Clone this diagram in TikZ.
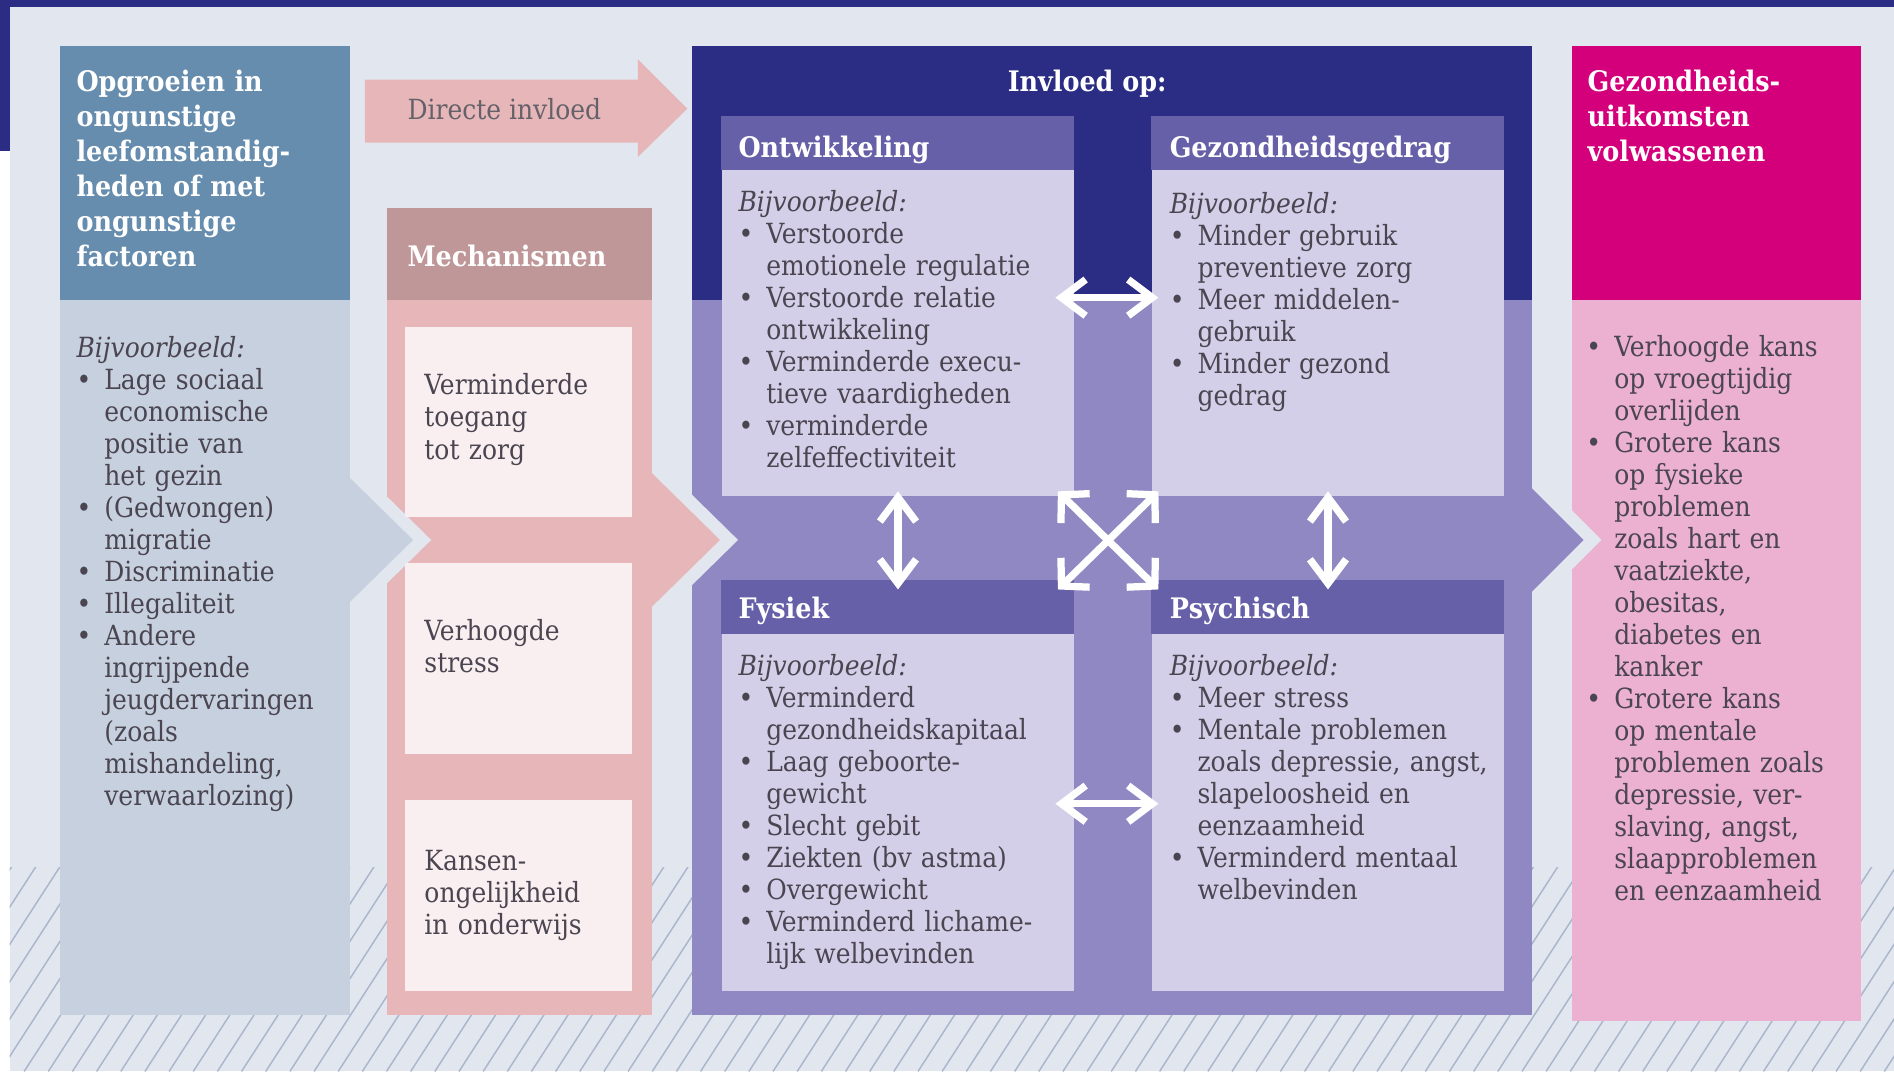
\documentclass[tikz,border=0pt]{standalone}
\usepackage{fontspec}
\setmainfont{DejaVu Serif Condensed}
\usetikzlibrary{arrows.meta}

\definecolor{pagebg}{HTML}{E1E6EF}
\definecolor{navy}{HTML}{2B2D84}
\definecolor{leftHead}{HTML}{668DAE}
\definecolor{leftBody}{HTML}{C6D0DE}
\definecolor{pinkArrow}{HTML}{E6B6B8}
\definecolor{mechHead}{HTML}{C09799}
\definecolor{mechBody}{HTML}{E6B6B8}
\definecolor{mechBox}{HTML}{F9EFF0}
\definecolor{lavender}{HTML}{8F88C2}
\definecolor{subHead}{HTML}{6660A8}
\definecolor{subBody}{HTML}{D4CFE8}
\definecolor{outHead}{HTML}{D4007B}
\definecolor{outBody}{HTML}{ECB0D1}
\definecolor{hatchGray}{HTML}{AAB6CC}
\definecolor{textGray}{HTML}{4A4550}

\newcommand\itm{\makebox[11.5pt][l]{\textbullet}}
\newcommand\cnt{\hspace*{11.5pt}}

\tikzset{
  heading/.style={font=\fontsize{11.7}{14.5}\selectfont\bfseries, text=white, inner sep=0pt, text width=220pt, align=left},
  box title/.style={font=\fontsize{11.7}{14.5}\selectfont\bfseries, text=white, inner sep=0pt},
  body text/.style={font=\fontsize{11.5}{13.25}\selectfont, text=textGray, inner sep=0pt, text width=220pt, align=left},
  arrow text/.style={font=\fontsize{11.5}{13.25}\selectfont, text=textGray!85, inner sep=0pt},
  mech box/.style={fill=mechBox, anchor=north west, inner sep=0pt, minimum width=94pt, minimum height=79pt},
  sub box/.style={fill=subBody, anchor=north west, inner sep=0pt, minimum width=146pt},
  chevron gap/.style={draw=pagebg, line width=10.5pt},
  hatch line/.style={draw=hatchGray, line width=0.6pt},
  link/.style={draw=white, line width=3pt, arrows={Straight Barb[length=10pt,width=15pt]-Straight Barb[length=10pt,width=15pt]}},
  cross link/.style={draw=white, line width=3pt, arrows={Straight Barb[length=8pt,width=17pt]-Straight Barb[length=8pt,width=17pt]}}
}

\begin{document}
\begin{tikzpicture}[x=0.5pt, y=-0.5pt]
  \useasboundingbox (0,0) rectangle (1568,887);
  \fill[white] (0,0) rectangle (1568,887);
  \fill[pagebg] (8,0) rectangle (1568,887);
  \begin{scope}
    \clip (8,718) rectangle (1568,887);
    \foreach \k in {0,...,85}
      \draw[hatch line] (\k*20-120,887) -- ++(110,-170);
  \end{scope}
  \fill[navy] (0,0) rectangle (1568,6);
  \fill[navy] (0,0) rectangle (8,125);

  % columns
  \fill[leftHead] (50,38) rectangle (290,248);
  \fill[leftBody] (50,248) rectangle (290,840);
  \fill[mechHead] (320,172) rectangle (540,248);
  \fill[mechBody] (320,248) rectangle (540,840);
  \fill[navy] (573,38) rectangle (1268,248);
  \fill[lavender] (573,248) rectangle (1268,840);
  \fill[outHead] (1301,38) rectangle (1541,248);
  \fill[outBody] (1301,248) rectangle (1541,845);

  % chevrons
  \draw[chevron gap] (290,396) -- (342,447) -- (290,498);
  \fill[leftBody] (280,396) -- (290,396) -- (342,447) -- (290,498) -- (280,498) -- cycle;
  \draw[chevron gap] (540,392) -- (596,447) -- (540,502);
  \fill[mechBody] (530,392) -- (540,392) -- (596,447) -- (540,502) -- (530,502) -- cycle;
  \draw[chevron gap] (1268,404) -- (1311,447) -- (1268,490);
  \fill[lavender] (1258,404) -- (1268,404) -- (1311,447) -- (1268,490) -- (1258,490) -- cycle;

  \fill[pinkArrow] (302,66) -- (528,66) -- (528,49) -- (569,90) -- (528,130) -- (528,118) -- (302,118) -- cycle;
  \node[arrow text, anchor=base west] (directe) at (337,99) {Directe invloed};

  \node[mech box] (zorg box) at (335,270) {};
  \node[mech box] (stress box) at (335,466) {};
  \node[mech box] (onderwijs box) at (335,662) {};

  \node[sub box, minimum height=157pt] (ontw) at (597,96) {};
  \node[sub box, minimum height=157pt] (gez) at (953,96) {};
  \node[sub box, minimum height=170pt] (fys) at (597,480) {};
  \node[sub box, minimum height=170pt] (psy) at (953,480) {};
  \foreach \b in {ontw,gez,fys,psy}
    \fill[subHead] (\b.north west) rectangle ++(292,45);

  \draw[link] ([xshift=-8pt,yshift=3.5pt]ontw.east) -- ([xshift=3pt,yshift=3.5pt]gez.west);
  \draw[link] ([xshift=-8pt,yshift=-7.5pt]fys.east) -- ([xshift=3pt,yshift=-7.5pt]psy.west);
  \draw[link] ([yshift=2pt]ontw.south) -- ([yshift=-4pt]fys.north);
  \draw[link] ([yshift=2pt]gez.south) -- ([yshift=-4pt]psy.north);
  \draw[cross link] ([xshift=-7pt,yshift=2pt]ontw.south east) -- ([xshift=3pt,yshift=-4pt]psy.north west);
  \draw[cross link] ([xshift=3pt,yshift=2pt]gez.south west) -- ([xshift=-7pt,yshift=-4pt]fys.north east);

  \node[heading, anchor=base west] (opgroeien) at (63,76) {Opgroeien in\\ongunstige\\leefomstandig-\\heden of met\\ongunstige\\factoren};
  \node[heading, anchor=base west] (mech title) at (337,221) {Mechanismen};
  \node[box title, anchor=base] (invloed title) at (900,76) {Invloed op:};
  \node[heading, anchor=base west] (uitkomsten) at (1314,76) {Gezondheids-\\uitkomsten\\volwassenen};
  \node[heading, anchor=base west] (ontw title) at (611,130) {Ontwikkeling};
  \node[heading, anchor=base west] (gez title) at (968,130) {Gezondheidsgedrag};
  \node[heading, anchor=base west] (fys title) at (611,512) {Fysiek};
  \node[heading, anchor=base west] (psy title) at (968,512) {Psychisch};

  \node[body text, anchor=base west] (left list) at (63,296) {\textit{Bijvoorbeeld:}\\\itm Lage sociaal\\\cnt economische\\\cnt positie van\\\cnt het gezin\\\itm (Gedwongen)\\\cnt migratie\\\itm Discriminatie\\\itm Illegaliteit\\\itm Andere\\\cnt ingrijpende\\\cnt jeugdervaringen\\\cnt (zoals\\\cnt mishandeling,\\\cnt verwaarlozing)};

  \node[body text, anchor=base west] (zorg) at (351,327) {Verminderde\\toegang\\tot zorg};
  \node[body text, anchor=base west] (stress) at (351,530) {Verhoogde\\stress};
  \node[body text, anchor=base west] (onderwijs) at (351,721) {Kansen-\\ongelijkheid\\in onderwijs};

  \node[body text, anchor=base west] (ontw list) at (611,175) {\textit{Bijvoorbeeld:}\\\itm Verstoorde\\\cnt emotionele regulatie\\\itm Verstoorde relatie\\\cnt ontwikkeling\\\itm Verminderde execu-\\\cnt tieve vaardigheden\\\itm verminderde\\\cnt zelfeffectiviteit};
  \node[body text, anchor=base west] (gez list) at (968,177) {\textit{Bijvoorbeeld:}\\\itm Minder gebruik\\\cnt preventieve zorg\\\itm Meer middelen-\\\cnt gebruik\\\itm Minder gezond\\\cnt gedrag};
  \node[body text, anchor=base west] (fys list) at (611,559) {\textit{Bijvoorbeeld:}\\\itm Verminderd\\\cnt gezondheidskapitaal\\\itm Laag geboorte-\\\cnt gewicht\\\itm Slecht gebit\\\itm Ziekten (bv astma)\\\itm Overgewicht\\\itm Verminderd lichame-\\\cnt lijk welbevinden};
  \node[body text, anchor=base west] (psy list) at (968,559) {\textit{Bijvoorbeeld:}\\\itm Meer stress\\\itm Mentale problemen\\\cnt zoals depressie, angst,\\\cnt slapeloosheid en\\\cnt eenzaamheid\\\itm Verminderd mentaal\\\cnt welbevinden};

  \node[body text, anchor=base west] (uitkomsten list) at (1313,295) {\itm Verhoogde kans\\\cnt op vroegtijdig\\\cnt overlijden\\\itm Grotere kans\\\cnt op fysieke\\\cnt problemen\\\cnt zoals hart en\\\cnt vaatziekte,\\\cnt obesitas,\\\cnt diabetes en\\\cnt kanker\\\itm Grotere kans\\\cnt op mentale\\\cnt problemen zoals\\\cnt depressie, ver-\\\cnt slaving, angst,\\\cnt slaapproblemen\\\cnt en eenzaamheid};
\end{tikzpicture}
\end{document}
